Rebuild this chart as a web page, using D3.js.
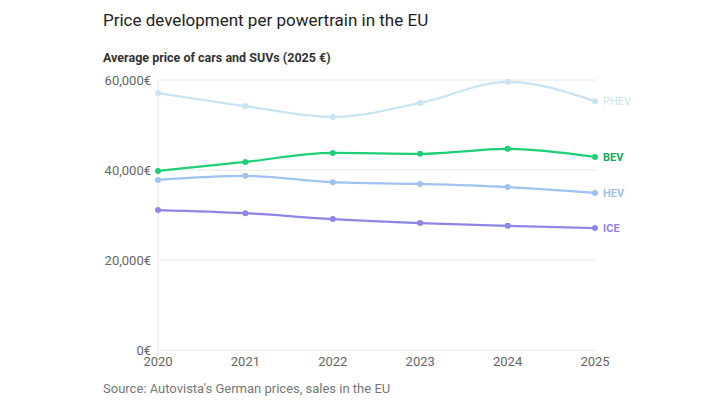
<!DOCTYPE html>
<html><head><meta charset="utf-8">
<script src="https://cdn.jsdelivr.net/npm/d3@7"></script>
<style>body{margin:0;background:#fff;font-family:Roboto,"Noto Sans",sans-serif}</style>
</head><body><div id="vis"></div>
<script>
var years = [2020, 2021, 2022, 2023, 2024, 2025];
var phev = [57100, 54200, 51800, 54900, 59600, 55300];
var bev = [39800, 41800, 43800, 43600, 44700, 42900];
var hev = [37800, 38700, 37300, 36900, 36200, 34900];
var ice = [31100, 30400, 29100, 28200, 27600, 27100];
var yTicks = [0, 20000, 40000, 60000];

var series = [
  {name: "PHEV", values: phev, color: "#c8e4f4", label: "#c8e4f4", bold: false},
  {name: "HEV", values: hev, color: "#9ec2f2", label: "#9ec2f2", bold: true},
  {name: "ICE", values: ice, color: "#8e86e6", label: "#8e86e6", bold: true},
  {name: "BEV", values: bev, color: "#1fcf78", label: "#12a85e", bold: true}
];

var svg = d3.select("#vis").append("svg").attr("width", 720).attr("height", 405);

var x = d3.scaleLinear().domain([2020, 2025]).range([158, 595]);
var y = d3.scaleLinear().domain([0, 60000]).range([350, 80]);

svg.append("text").attr("x", 103).attr("y", 26).attr("font-size", 17).attr("fill", "#222")
  .text("Price development per powertrain in the EU");
svg.append("text").attr("x", 103).attr("y", 62).attr("font-size", 12.5).attr("font-weight", "bold").attr("fill", "#333")
  .text("Average price of cars and SUVs (2025 €)");

svg.selectAll(".grid").data(yTicks).join("line")
  .attr("x1", 158).attr("x2", 595).attr("y1", d => y(d)).attr("y2", d => y(d))
  .attr("stroke", "#e6e6e6");
svg.append("line").attr("x1", 158).attr("x2", 158).attr("y1", 80).attr("y2", 350).attr("stroke", "#e6e6e6");

svg.selectAll(".yl").data(yTicks).join("text")
  .attr("x", 151).attr("y", d => y(d) + 5).attr("text-anchor", "end")
  .attr("font-size", 13).attr("fill", "#666")
  .text(d => d3.format(",")(d) + "€");

svg.selectAll(".xl").data(years).join("text")
  .attr("x", d => x(d)).attr("y", 366).attr("text-anchor", "middle")
  .attr("font-size", 13).attr("fill", "#666").text(d => d);

var line = d3.line().x((d, i) => x(years[i])).y(d => y(d)).curve(d3.curveMonotoneX);

series.forEach(function(s) {
  var g = svg.append("g");
  g.append("path").attr("d", line(s.values)).attr("fill", "none")
    .attr("stroke", s.color).attr("stroke-width", 2.2);
  g.selectAll("circle").data(s.values).join("circle")
    .attr("cx", (d, i) => x(years[i])).attr("cy", d => y(d)).attr("r", 3)
    .attr("fill", s.color);
  g.append("text").attr("x", 603).attr("y", y(s.values[5]) + 4)
    .attr("font-size", 11).attr("font-weight", s.bold ? "bold" : "normal")
    .attr("fill", s.label).text(s.name);
});

svg.append("text").attr("x", 103).attr("y", 393).attr("font-size", 13).attr("fill", "#777")
  .text("Source: Autovista's German prices, sales in the EU");
</script></body></html>
